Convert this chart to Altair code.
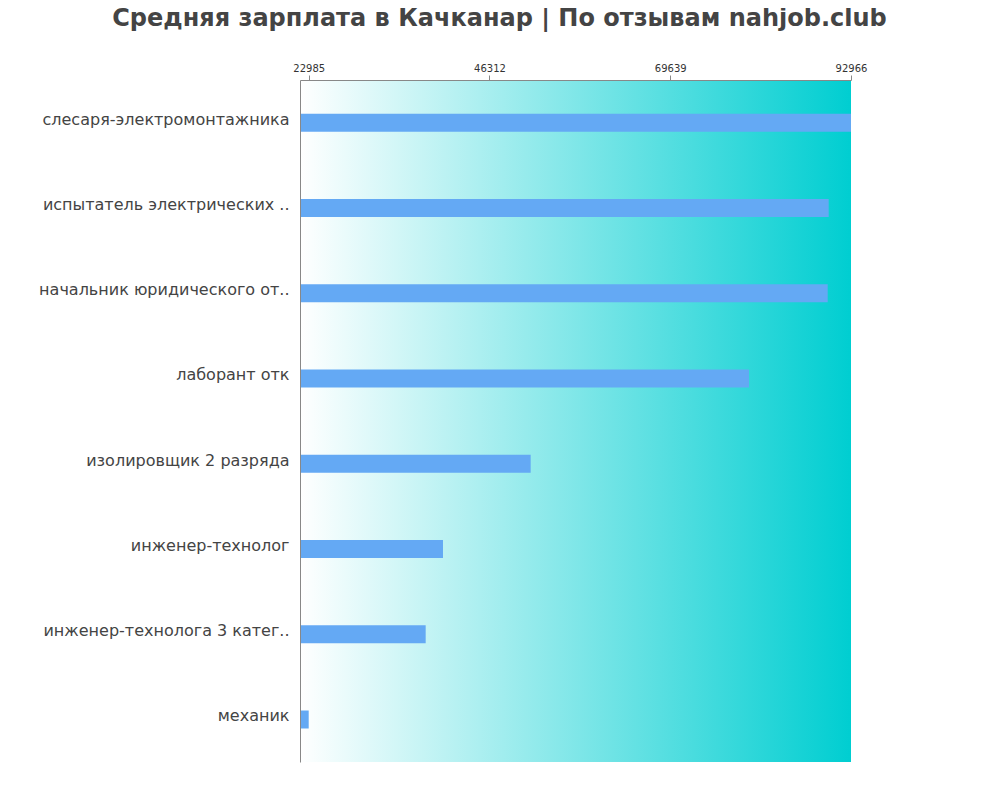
import altair as alt
import pandas as pd

title_text = "Средняя зарплата в Качканар | По отзывам nahjob.club"
categories = [
    "слесаря-электромонтажника",
    "испытатель электрических ..",
    "начальник юридического от..",
    "лаборант отк",
    "изолировщик 2 разряда",
    "инженер-технолог",
    "инженер-технолога 3 катег..",
    "механик",
]
salaries = [92966, 90088, 89959, 79803, 51631, 40314, 38081, 22985]
tick_values = [22985, 46312, 69639, 92966]
x_domain = [21862, 92966]

df = pd.DataFrame({"job": categories, "salary": salaries})
bg_df = pd.DataFrame({"lo": [x_domain[0]], "hi": [x_domain[1]]})

x_scale = alt.Scale(domain=x_domain, nice=False, zero=False)

background = alt.Chart(bg_df).mark_rect(
    color=alt.Gradient(
        gradient="linear",
        stops=[
            alt.GradientStop(color="#FFFFFF", offset=0),
            alt.GradientStop(color="#00CED1", offset=1),
        ],
        x1=0, x2=1, y1=0, y2=0,
    )
).encode(
    x=alt.X("lo:Q", scale=x_scale),
    x2="hi:Q",
)

bars = alt.Chart(df).mark_bar(size=18, color="#64A9F4", clip=True).encode(
    x=alt.X(
        "salary:Q",
        scale=x_scale,
        axis=alt.Axis(
            orient="top",
            values=tick_values,
            format="d",
            title=None,
            grid=False,
            labelFontSize=10,
            labelColor="#333333",
            labelFont="DejaVu Sans",
            tickSize=5,
            tickColor="#888888",
            domainColor="#888888",
            labelPadding=2,
            labelFlush=False,
            zindex=1,
        ),
    ),
    y=alt.Y(
        "job:N",
        sort=categories,
        scale=alt.Scale(paddingInner=0, paddingOuter=0),
        axis=alt.Axis(
            title=None,
            ticks=False,
            labelFontSize=16,
            labelColor="#444444",
            labelFont="DejaVu Sans",
            labelPadding=11,
            labelOffset=-3,
            domainColor="#888888",
            labelLimit=400,
            zindex=1,
        ),
    ),
)

chart = alt.layer(background, bars).properties(
    width=551,
    height=682,
    title=alt.TitleParams(
        text=title_text,
        fontSize=24,
        font="DejaVu Sans",
        fontWeight="bold",
        color="#444444",
        anchor="middle",
        dx=-76,
        offset=32,
    ),
    autosize=alt.AutoSizeParams(type="none"),
    padding={"left": 292, "top": 72, "right": 141, "bottom": 22},
).configure_view(stroke=None)

chart.save("out.html", embed_options={"renderer": "svg", "actions": False})
